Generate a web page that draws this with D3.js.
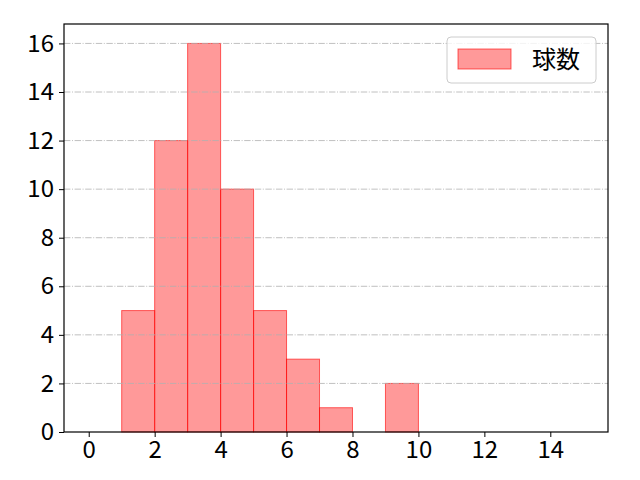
<!DOCTYPE html>
<html>
<head>
<meta charset="utf-8">
<script src="https://cdn.jsdelivr.net/npm/d3@7"></script>
<style>
  body { margin: 0; background: #fff; }
  svg { display: block; font-family: "Noto Sans CJK JP", "DejaVu Sans", sans-serif; }
</style>
</head>
<body>
<div id="chart"></div>
<script>
// bin edges (left side of each bar) and counts per bin
var binStarts = [0, 1, 2, 3, 4, 5, 6, 7, 8, 9, 10, 11, 12, 13, 14];
var counts    = [0, 5, 12, 16, 10, 5, 3, 1, 0, 2, 0, 0, 0, 0, 0];
var xTicks = [0, 2, 4, 6, 8, 10, 12, 14];
var yTicks = [0, 2, 4, 6, 8, 10, 12, 14, 16];
var seriesName = "球数";

var width = 640, height = 480;
var margin = {left: 64, right: 32, top: 24, bottom: 48};

var svg = d3.select("#chart").append("svg")
  .attr("width", width)
  .attr("height", height);

var x = d3.scaleLinear()
  .domain([-0.75, 15.75])
  .range([margin.left, width - margin.right]);

var y = d3.scaleLinear()
  .domain([0, 16.8])
  .range([height - margin.bottom, margin.top]);

// ---- bars
var bins = binStarts.map(function(s, i){ return {x0: s, x1: s + 1, n: counts[i]}; })
  .filter(function(d){ return d.n > 0; });

svg.append("g").selectAll("rect")
  .data(bins)
  .enter().append("rect")
    .attr("x", function(d){ return x(d.x0); })
    .attr("y", function(d){ return y(d.n); })
    .attr("width", function(d){ return x(d.x1) - x(d.x0); })
    .attr("height", function(d){ return y(0) - y(d.n); })
    .attr("fill", "#ff0000")
    .attr("fill-opacity", 0.4)
    .attr("stroke", "#ff0000")
    .attr("stroke-opacity", 0.6)
    .attr("stroke-width", 1);

// ---- grid (horizontal, dash-dot)
svg.append("g").selectAll("line")
  .data(yTicks.filter(function(t){ return t > 0; }))
  .enter().append("line")
    .attr("x1", margin.left)
    .attr("x2", width - margin.right)
    .attr("y1", function(d){ return y(d); })
    .attr("y2", function(d){ return y(d); })
    .attr("stroke", "#b0b0b0")
    .attr("stroke-width", 0.8)
    .attr("stroke-dasharray", "6.4,1.6,1,1.6");

// ---- axes
var xAxis = d3.axisBottom(x).tickValues(xTicks).tickSize(5).tickPadding(4);
var yAxis = d3.axisLeft(y).tickValues(yTicks).tickSize(5).tickPadding(5);

var gx = svg.append("g")
  .attr("transform", "translate(0," + y(0) + ")")
  .call(xAxis);
var gy = svg.append("g")
  .attr("transform", "translate(" + margin.left + ",0)")
  .call(yAxis);

[gx, gy].forEach(function(g){
  g.select(".domain").remove();
  g.selectAll(".tick line").attr("stroke", "#000").attr("stroke-width", 1);
  g.selectAll(".tick text")
    .attr("fill", "#000")
    .style("font-size", "24px")
    .style("font-family", "'Noto Sans CJK JP', 'DejaVu Sans', sans-serif");
});

// frame
svg.append("rect")
  .attr("x", margin.left)
  .attr("y", margin.top)
  .attr("width", width - margin.right - margin.left)
  .attr("height", height - margin.bottom - margin.top)
  .attr("fill", "none")
  .attr("stroke", "#000")
  .attr("stroke-width", 1.2);

// ---- legend
var legend = svg.append("g").attr("transform", "translate(447,37)");
legend.append("rect")
  .attr("width", 149)
  .attr("height", 46)
  .attr("rx", 4)
  .attr("fill", "#fff")
  .attr("fill-opacity", 0.8)
  .attr("stroke", "#cccccc")
  .attr("stroke-width", 1);
legend.append("rect")
  .attr("x", 11)
  .attr("y", 12)
  .attr("width", 53)
  .attr("height", 20)
  .attr("fill", "#ff0000")
  .attr("fill-opacity", 0.4)
  .attr("stroke", "#ff0000")
  .attr("stroke-opacity", 0.6);
legend.append("text")
  .attr("x", 85)
  .attr("y", 31)
  .attr("fill", "#000")
  .style("font-size", "24px")
  .text(seriesName);
</script>
</body>
</html>
